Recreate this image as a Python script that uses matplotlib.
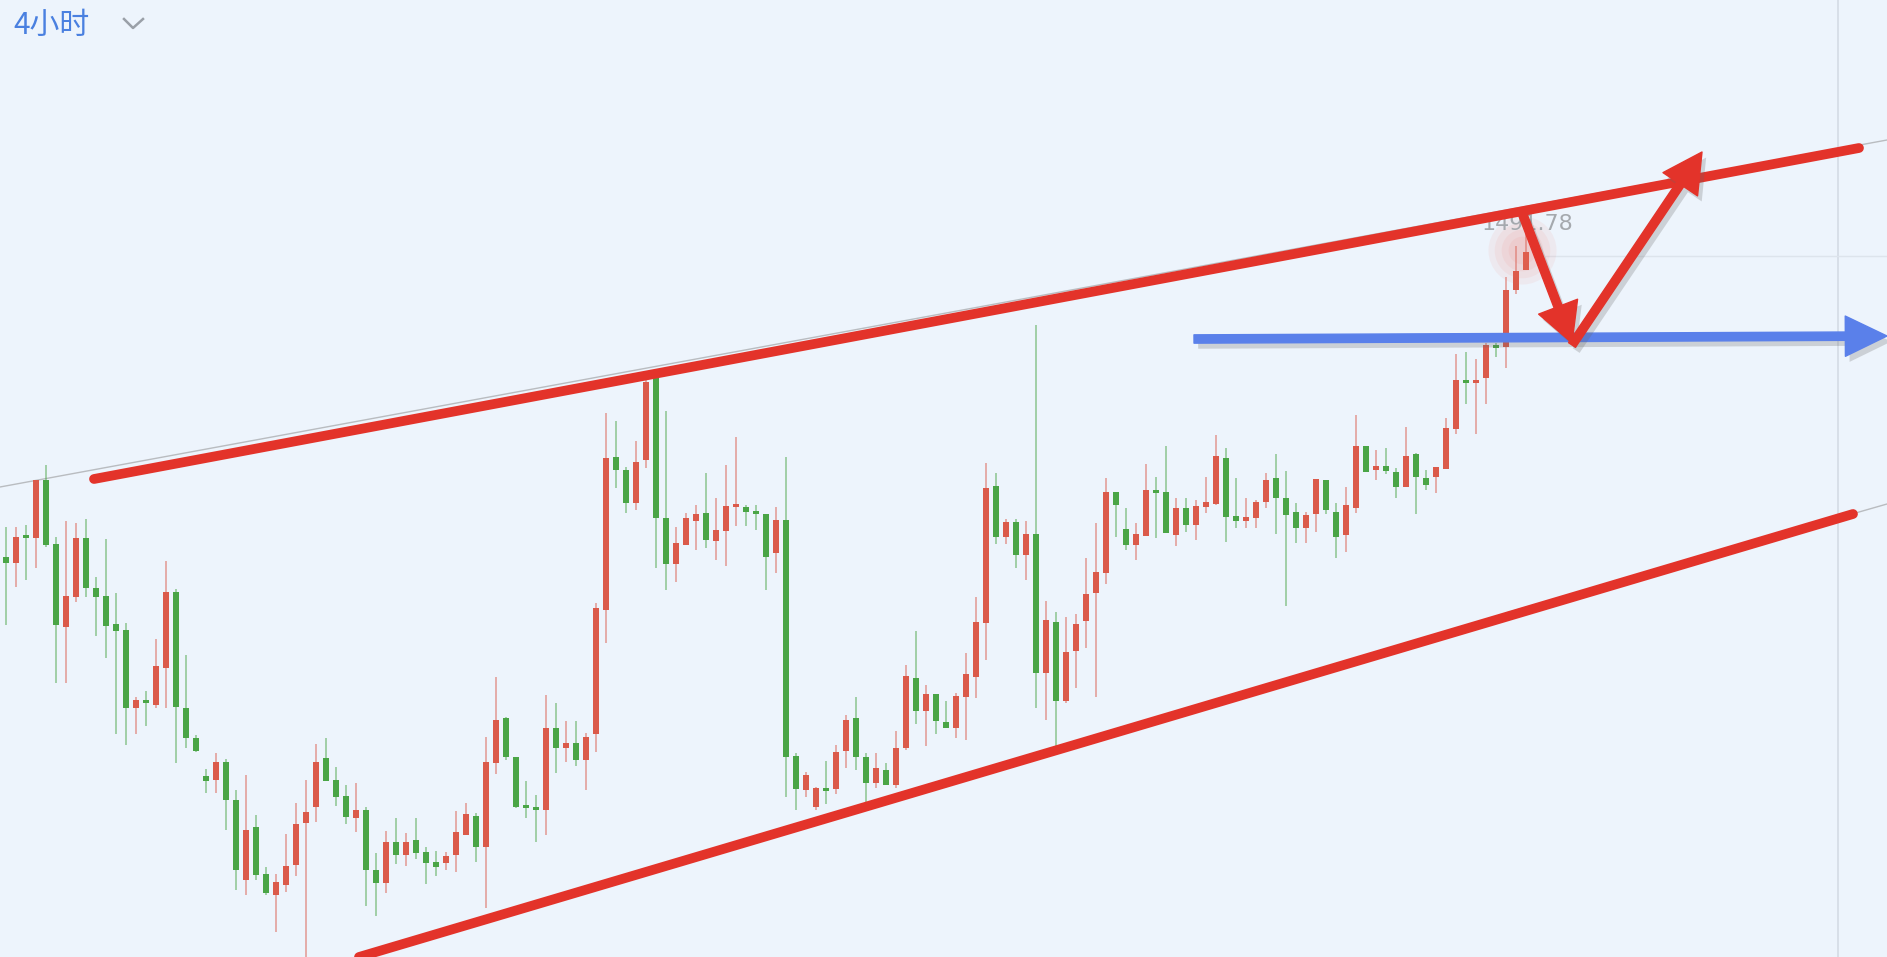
import matplotlib.pyplot as plt
import matplotlib.patheffects as pe
from matplotlib.patches import FancyArrowPatch
from matplotlib.lines import Line2D

# 4H candles, price units (red = up, green = down)
opens = [1457.3, 1456.7, 1459.3, 1459.2, 1465.0, 1458.6, 1450.3, 1453.3, 1459.2, 1454.2,
         1453.4, 1450.6, 1450.0, 1442.2, 1443.0, 1442.5, 1446.2, 1453.8, 1442.2, 1439.2,
         1435.4, 1435.0, 1436.8, 1433.0, 1425.0, 1430.3, 1425.6, 1423.5, 1424.5, 1426.5,
         1430.7, 1432.3, 1437.2, 1435.0, 1433.4, 1431.2, 1432.0, 1426.0, 1424.7, 1428.8,
         1427.5, 1429.0, 1427.8, 1426.8, 1426.7, 1427.5, 1429.5, 1431.4, 1428.3, 1436.7,
         1441.2, 1437.3, 1432.4, 1432.3, 1432.0, 1440.2, 1438.2, 1438.7, 1437.0, 1439.6,
         1452.0, 1467.3, 1466.0, 1462.7, 1467.0, 1475.2, 1461.2, 1456.6, 1458.5, 1460.9,
         1461.7, 1458.9, 1459.9, 1462.3, 1462.3, 1461.7, 1461.6, 1457.7, 1461.0, 1437.4,
         1434.0, 1432.3, 1434.2, 1434.1, 1437.9, 1441.2, 1437.3, 1434.7, 1436.0, 1434.5,
         1438.2, 1445.2, 1441.9, 1443.6, 1440.8, 1440.2, 1443.3, 1445.3, 1450.7, 1464.4,
         1459.3, 1460.8, 1457.5, 1459.6, 1445.7, 1450.8, 1442.9, 1447.9, 1450.9, 1453.7,
         1455.7, 1463.8, 1460.1, 1458.5, 1459.4, 1464.0, 1463.8, 1459.5, 1462.2, 1460.5,
         1462.3, 1462.6, 1467.2, 1461.4, 1460.9, 1461.2, 1462.8, 1465.2, 1463.2, 1461.8,
         1460.2, 1461.6, 1465.0, 1461.8, 1459.5, 1462.2, 1468.4, 1466.0, 1466.4, 1465.8,
         1464.3, 1467.6, 1465.2, 1465.3, 1466.1, 1470.1, 1474.9, 1474.7, 1475.2, 1478.5,
         1478.3, 1484.0, 1486.0]
highs = [1460.3, 1460.3, 1460.5, 1465.0, 1466.5, 1459.3, 1460.9, 1460.7, 1461.1, 1455.3,
         1459.1, 1453.7, 1450.7, 1443.3, 1443.9, 1449.1, 1456.9, 1454.1, 1447.5, 1439.5,
         1436.1, 1437.7, 1437.1, 1434.0, 1435.5, 1431.5, 1426.3, 1425.6, 1429.6, 1432.7,
         1435.0, 1438.6, 1439.2, 1436.3, 1434.5, 1434.7, 1432.3, 1427.7, 1429.9, 1431.2,
         1429.7, 1431.2, 1428.3, 1427.9, 1427.8, 1431.9, 1432.7, 1431.7, 1439.3, 1445.3,
         1441.3, 1437.3, 1434.9, 1433.5, 1443.5, 1442.7, 1440.9, 1440.9, 1439.7, 1452.7,
         1471.7, 1470.9, 1466.3, 1468.9, 1475.2, 1475.5, 1471.9, 1460.3, 1461.7, 1462.5,
         1465.7, 1463.2, 1466.5, 1469.3, 1462.5, 1462.5, 1461.6, 1462.3, 1467.3, 1437.7,
         1435.8, 1434.3, 1436.9, 1438.5, 1441.5, 1443.3, 1437.7, 1437.7, 1436.7, 1439.9,
         1446.5, 1449.9, 1444.5, 1443.6, 1442.9, 1443.7, 1447.7, 1453.3, 1466.7, 1465.7,
         1461.1, 1461.1, 1460.9, 1480.5, 1452.9, 1451.8, 1451.3, 1451.6, 1457.2, 1460.7,
         1465.2, 1463.8, 1462.2, 1460.7, 1466.6, 1465.3, 1468.4, 1463.2, 1463.2, 1463.0,
         1465.3, 1469.5, 1468.2, 1465.2, 1463.2, 1463.0, 1465.7, 1467.6, 1465.9, 1462.7,
         1461.8, 1465.1, 1465.0, 1462.7, 1464.3, 1471.5, 1468.4, 1468.0, 1468.2, 1466.2,
         1470.3, 1467.7, 1466.0, 1466.3, 1471.2, 1477.6, 1477.8, 1477.1, 1478.7, 1478.7,
         1485.3, 1488.4, 1491.78]
lows = [1450.5, 1454.3, 1455.0, 1456.2, 1458.3, 1444.7, 1444.7, 1452.8, 1453.3, 1449.4,
        1447.2, 1439.6, 1438.5, 1439.6, 1440.4, 1442.2, 1442.2, 1436.7, 1438.2, 1437.8,
        1433.7, 1433.7, 1430.0, 1424.0, 1423.5, 1425.0, 1423.5, 1419.8, 1423.8, 1425.4,
        1417.0, 1430.8, 1434.9, 1432.4, 1430.6, 1429.8, 1422.4, 1421.4, 1423.7, 1426.6,
        1426.4, 1427.1, 1424.6, 1425.4, 1426.0, 1425.8, 1429.5, 1426.8, 1422.2, 1435.6,
        1437.0, 1432.2, 1431.2, 1428.8, 1429.5, 1435.7, 1436.8, 1436.4, 1434.0, 1437.8,
        1448.7, 1464.2, 1461.7, 1462.0, 1466.2, 1456.2, 1454.0, 1454.8, 1458.5, 1458.0,
        1458.2, 1457.0, 1456.4, 1460.4, 1460.4, 1460.0, 1454.0, 1455.7, 1433.3, 1432.0,
        1433.3, 1432.0, 1432.6, 1433.6, 1436.2, 1436.0, 1432.8, 1434.2, 1434.5, 1434.2,
        1438.0, 1440.6, 1438.4, 1439.6, 1440.2, 1439.2, 1439.0, 1443.2, 1447.0, 1458.6,
        1458.6, 1456.2, 1455.0, 1442.2, 1441.0, 1437.5, 1442.7, 1444.2, 1448.2, 1443.3,
        1454.6, 1459.3, 1458.0, 1457.0, 1459.4, 1459.2, 1459.7, 1458.4, 1459.8, 1459.0,
        1461.7, 1462.5, 1458.8, 1460.2, 1460.2, 1460.2, 1462.2, 1459.6, 1452.4, 1458.7,
        1458.7, 1459.8, 1461.6, 1457.2, 1457.8, 1461.7, 1465.8, 1465.0, 1465.6, 1463.2,
        1464.3, 1461.6, 1464.0, 1463.7, 1466.1, 1469.6, 1472.6, 1469.6, 1472.6, 1477.3,
        1476.2, 1483.6, 1486.0]
closes = [1456.7, 1459.3, 1459.2, 1465.0, 1458.5, 1450.5, 1453.4, 1459.2, 1454.2, 1453.3,
          1450.4, 1449.9, 1442.2, 1443.0, 1442.7, 1446.4, 1453.8, 1442.3, 1439.2, 1437.9,
          1434.9, 1436.8, 1433.0, 1426.0, 1430.0, 1425.5, 1423.7, 1424.8, 1426.4, 1430.6,
          1431.8, 1436.8, 1434.9, 1433.3, 1431.3, 1432.0, 1426.0, 1424.7, 1428.8, 1427.5,
          1428.8, 1427.7, 1426.7, 1426.3, 1427.4, 1429.8, 1431.6, 1428.3, 1436.8, 1441.0,
          1437.3, 1432.3, 1432.2, 1432.0, 1440.2, 1438.2, 1438.7, 1437.0, 1439.3, 1452.2,
          1467.2, 1466.0, 1462.7, 1466.8, 1474.8, 1461.2, 1456.6, 1458.7, 1461.2, 1461.6,
          1459.0, 1460.0, 1462.4, 1462.6, 1461.8, 1461.6, 1457.3, 1461.0, 1437.3, 1434.1,
          1435.5, 1434.2, 1433.9, 1437.8, 1441.0, 1437.3, 1434.7, 1436.2, 1434.5, 1438.2,
          1445.4, 1441.9, 1443.6, 1440.9, 1440.2, 1443.4, 1445.6, 1450.8, 1464.2, 1459.3,
          1460.8, 1457.5, 1459.6, 1445.7, 1451.0, 1442.9, 1447.8, 1450.6, 1453.6, 1455.8,
          1463.8, 1462.5, 1458.5, 1459.6, 1464.0, 1463.7, 1459.7, 1462.2, 1460.5, 1462.4,
          1462.8, 1467.4, 1461.3, 1460.9, 1461.3, 1462.8, 1465.0, 1463.2, 1461.5, 1460.2,
          1461.5, 1465.1, 1462.0, 1459.3, 1462.5, 1468.4, 1465.8, 1466.4, 1465.9, 1464.3,
          1467.4, 1465.3, 1464.5, 1466.3, 1470.2, 1475.0, 1474.7, 1475.0, 1478.5, 1478.2,
          1484.0, 1485.9, 1487.8]
max_label = "1491.78"
period_label = "4小时"

UP = "#db5a4a"
DOWN = "#4aa546"
BG = "#edf4fc"

W, H = 1887, 957
fig = plt.figure(figsize=(W / 100, H / 100), dpi=100, facecolor=BG)
ax = fig.add_axes([0, 0, 1, 1])
ax.set_facecolor(BG)
ax.set_xlim(-0.6, 188.1)
ax.set_ylim(1417.3, 1513)
ax.axis("off")

x = list(range(len(opens)))
colors = [UP if c >= o else DOWN for o, c in zip(opens, closes)]
ax.vlines(x, lows, highs, colors=colors, linewidth=1.2, alpha=0.55, zorder=3)
bodies = [max(abs(c - o), 0.3) for o, c in zip(opens, closes)]
bottoms = [min(o, c) for o, c in zip(opens, closes)]
ax.bar(x, bodies, bottom=bottoms, width=0.56, color=colors, zorder=4)

# grid-ish chart elements
ax.axvline(183.2, color="#d8dfe8", linewidth=1.4, zorder=1)
ax.hlines(1487.4, 153.9, 188.1, color="#dde4ec", linewidth=1.0, zorder=1)

# faint chart trend lines under the drawn ones
ax.plot([-0.6, 188.1], [1464.3, 1499.0], color="#b9bcc0", linewidth=1.0, zorder=2)
ax.plot([150.0, 188.1], [1451.7, 1462.6], color="#b9bcc0", linewidth=1.0, zorder=2)

# highlight glow on the last candle
for s in [2400, 1600, 900, 400]:
    ax.scatter([151.6], [1488.0], s=s, color="#f06a60", alpha=0.08, linewidths=0, zorder=5)

ax.text(147.6, 1490.6, max_label, fontsize=16, color="#a5a9ae", ha="left", va="center", zorder=6)

# red channel lines
ax.plot([8.8, 185.3], [1465.1, 1498.2], color="#e3332a", linewidth=7,
        solid_capstyle="round", zorder=7)
ax.plot([35.3, 184.7], [1417.3, 1461.6], color="#e3332a", linewidth=7,
        solid_capstyle="round", zorder=7)

shadow = [pe.SimplePatchShadow(offset=(3, -4), shadow_rgbFace="#666666", alpha=0.25), pe.Normal()]

blue = FancyArrowPatch((118.8, 1479.1), (188.1, 1479.4),
                       arrowstyle="simple,head_length=30,head_width=29,tail_width=6",
                       color="#5a80ea", shrinkA=0, shrinkB=0, zorder=8, path_effects=shadow)
ax.add_patch(blue)

down = FancyArrowPatch((151.7, 1491.5), (156.6, 1478.7),
                       arrowstyle="simple,head_length=28,head_width=30,tail_width=6",
                       color="#e3332a", shrinkA=0, shrinkB=0, zorder=9, path_effects=shadow)
ax.add_patch(down)
up = FancyArrowPatch((156.6, 1478.5), (169.6, 1497.8),
                     arrowstyle="simple,head_length=28,head_width=30,tail_width=6",
                     color="#e3332a", shrinkA=0, shrinkB=0, zorder=9, path_effects=shadow)
ax.add_patch(up)

fig.text(13 / W, 1 - 25 / H, period_label, fontsize=21.5, color="#4a80e0",
         family=["Noto Sans CJK SC", "DejaVu Sans"], ha="left", va="center")
fig.add_artist(Line2D([124 / W, 133 / W, 143 / W], [1 - 19 / H, 1 - 28 / H, 1 - 19 / H],
                      color="#9aa0a8", linewidth=1.8))

plt.savefig("out.png", dpi=100, facecolor=BG)
